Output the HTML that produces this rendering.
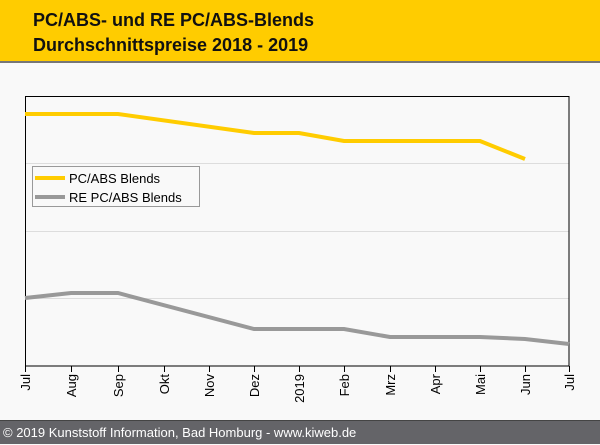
<!DOCTYPE html>
<html><head><style>
body{margin:0;width:600px;height:444px;background:#f9f9f9;font-family:"Liberation Sans",sans-serif;overflow:hidden;position:relative}
.hd{position:absolute;left:0;top:0;width:600px;height:61px;background:#ffcc00;border-bottom:2px solid #777}
.hd div{position:absolute;left:33px;font-weight:bold;font-size:18px;color:#111}
.ft{position:absolute;left:0;top:420px;width:600px;height:24px;background:#646468;border-top:1px solid #444;color:#fff;font-size:13px;line-height:24px;padding-left:3px;box-sizing:border-box}
</style></head><body>
<div class="hd"><div style="top:10px">PC/ABS- und RE PC/ABS-Blends</div><div style="top:35px">Durchschnittspreise 2018 - 2019</div></div>
<svg width="600" height="444" style="position:absolute;left:0;top:0">
<g stroke="#ddd" stroke-width="1"><line x1="25" y1="163.5" x2="569" y2="163.5"/><line x1="25" y1="231.5" x2="569" y2="231.5"/><line x1="25" y1="298.5" x2="569" y2="298.5"/></g>
<rect x="25.5" y="96.5" width="543.5" height="269.5" fill="none" stroke="#000"/>
<polyline fill="none" stroke="#ffcc00" stroke-width="4" points="25,114 118,114 254,133 299,133 344,141 480,141 525,159"/>
<polyline fill="none" stroke="#999" stroke-width="4" points="25,298 71,293 118,293 254,329 344,329 390,337 480,337 525,339 569,344"/>
<g stroke="#000"><line x1="25.5" y1="366" x2="25.5" y2="372"/><line x1="71.5" y1="366" x2="71.5" y2="372"/><line x1="118.5" y1="366" x2="118.5" y2="372"/><line x1="164.5" y1="366" x2="164.5" y2="372"/><line x1="209.5" y1="366" x2="209.5" y2="372"/><line x1="254.5" y1="366" x2="254.5" y2="372"/><line x1="299.5" y1="366" x2="299.5" y2="372"/><line x1="344.5" y1="366" x2="344.5" y2="372"/><line x1="390.5" y1="366" x2="390.5" y2="372"/><line x1="435.5" y1="366" x2="435.5" y2="372"/><line x1="480.5" y1="366" x2="480.5" y2="372"/><line x1="525.5" y1="366" x2="525.5" y2="372"/><line x1="569.5" y1="366" x2="569.5" y2="372"/></g>
<g font-size="13" fill="#000" text-anchor="end">
<text transform="translate(30,374) rotate(-90)">Jul</text>
<text transform="translate(76,374) rotate(-90)">Aug</text>
<text transform="translate(123,374) rotate(-90)">Sep</text>
<text transform="translate(169,374) rotate(-90)">Okt</text>
<text transform="translate(214,374) rotate(-90)">Nov</text>
<text transform="translate(259,374) rotate(-90)">Dez</text>
<text transform="translate(304,374) rotate(-90)">2019</text>
<text transform="translate(349,374) rotate(-90)">Feb</text>
<text transform="translate(395,374) rotate(-90)">Mrz</text>
<text transform="translate(440,374) rotate(-90)">Apr</text>
<text transform="translate(485,374) rotate(-90)">Mai</text>
<text transform="translate(530,374) rotate(-90)">Jun</text>
<text transform="translate(574,374) rotate(-90)">Jul</text>
</g>
<rect x="32.5" y="166.5" width="167" height="40" fill="#f9f9f9" stroke="#999"/>
<line x1="35" y1="178" x2="65" y2="178" stroke="#ffcc00" stroke-width="4"/>
<line x1="35" y1="197" x2="65" y2="197" stroke="#999" stroke-width="4"/>
<text x="69" y="183" font-size="13">PC/ABS Blends</text>
<text x="69" y="202" font-size="13">RE PC/ABS Blends</text>
</svg>
<div class="ft">© 2019 Kunststoff Information, Bad Homburg - www.kiweb.de</div>
</body></html>
